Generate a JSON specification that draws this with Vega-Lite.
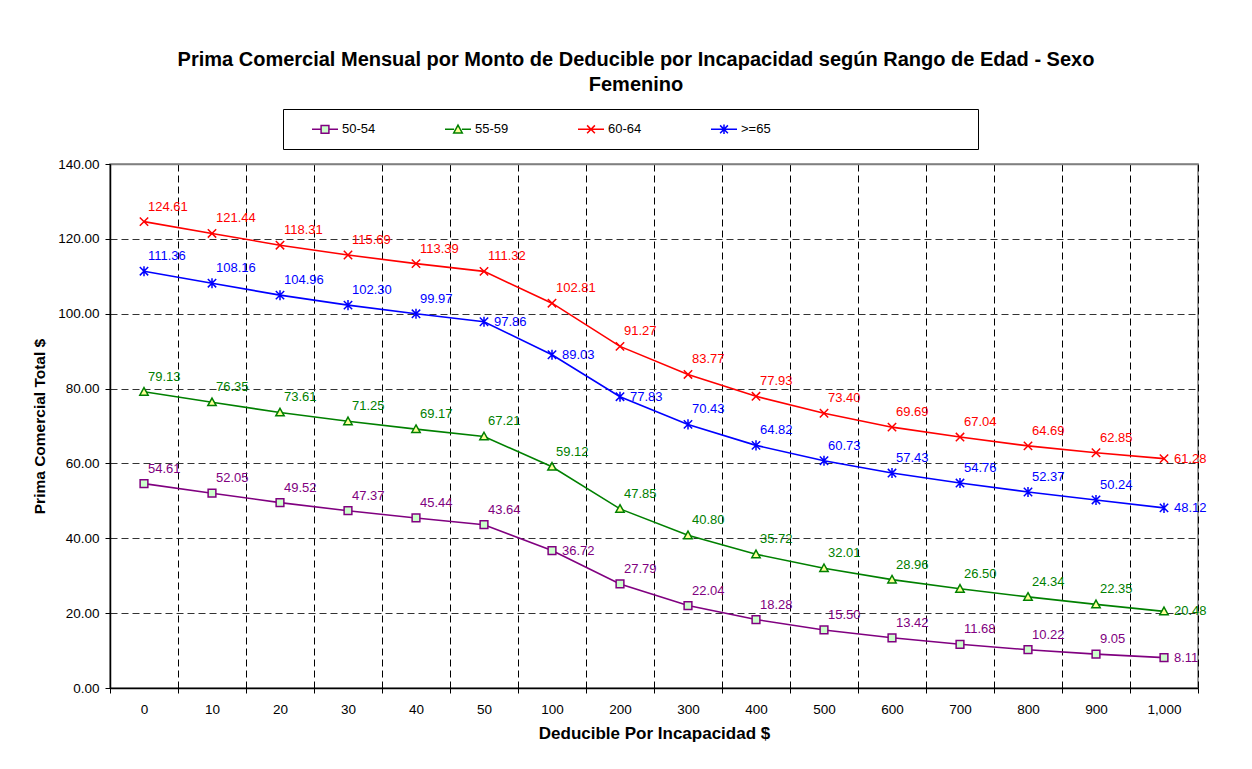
{
  "$schema": "https://vega.github.io/schema/vega-lite/v6.json",
  "autosize": {"type": "none"},
  "width": 1088,
  "height": 524,
  "padding": {"left": 110, "top": 164, "right": 54, "bottom": 81},
  "background": "white",
  "title": {
    "text": ["Prima Comercial Mensual por Monto de Deducible por Incapacidad según Rango de Edad - Sexo", "Femenino"],
    "font": "Liberation Sans",
    "fontSize": 20,
    "fontWeight": "bold",
    "color": "black",
    "anchor": "middle",
    "lineHeight": 25,
    "offset": 14,
    "dx": -18
  },
  "config": {
    "font": "Liberation Sans",
    "view": {"stroke": "#808080", "strokeWidth": 1.5}
  },
  "resolve": {"legend": {"stroke": "independent", "color": "independent", "fill": "independent", "shape": "independent"}},
  "datasets": {
    "prima": [
      {"d": "0", "s": "50-54", "v": 54.61}, {"d": "10", "s": "50-54", "v": 52.05}, {"d": "20", "s": "50-54", "v": 49.52}, {"d": "30", "s": "50-54", "v": 47.37},
      {"d": "40", "s": "50-54", "v": 45.44}, {"d": "50", "s": "50-54", "v": 43.64}, {"d": "100", "s": "50-54", "v": 36.72}, {"d": "200", "s": "50-54", "v": 27.79},
      {"d": "300", "s": "50-54", "v": 22.04}, {"d": "400", "s": "50-54", "v": 18.28}, {"d": "500", "s": "50-54", "v": 15.50}, {"d": "600", "s": "50-54", "v": 13.42},
      {"d": "700", "s": "50-54", "v": 11.68}, {"d": "800", "s": "50-54", "v": 10.22}, {"d": "900", "s": "50-54", "v": 9.05}, {"d": "1,000", "s": "50-54", "v": 8.11},
      {"d": "0", "s": "55-59", "v": 79.13}, {"d": "10", "s": "55-59", "v": 76.35}, {"d": "20", "s": "55-59", "v": 73.61}, {"d": "30", "s": "55-59", "v": 71.25},
      {"d": "40", "s": "55-59", "v": 69.17}, {"d": "50", "s": "55-59", "v": 67.21}, {"d": "100", "s": "55-59", "v": 59.12}, {"d": "200", "s": "55-59", "v": 47.85},
      {"d": "300", "s": "55-59", "v": 40.80}, {"d": "400", "s": "55-59", "v": 35.72}, {"d": "500", "s": "55-59", "v": 32.01}, {"d": "600", "s": "55-59", "v": 28.96},
      {"d": "700", "s": "55-59", "v": 26.50}, {"d": "800", "s": "55-59", "v": 24.34}, {"d": "900", "s": "55-59", "v": 22.35}, {"d": "1,000", "s": "55-59", "v": 20.48},
      {"d": "0", "s": "60-64", "v": 124.61}, {"d": "10", "s": "60-64", "v": 121.44}, {"d": "20", "s": "60-64", "v": 118.31}, {"d": "30", "s": "60-64", "v": 115.69},
      {"d": "40", "s": "60-64", "v": 113.39}, {"d": "50", "s": "60-64", "v": 111.32}, {"d": "100", "s": "60-64", "v": 102.81}, {"d": "200", "s": "60-64", "v": 91.27},
      {"d": "300", "s": "60-64", "v": 83.77}, {"d": "400", "s": "60-64", "v": 77.93}, {"d": "500", "s": "60-64", "v": 73.40}, {"d": "600", "s": "60-64", "v": 69.69},
      {"d": "700", "s": "60-64", "v": 67.04}, {"d": "800", "s": "60-64", "v": 64.69}, {"d": "900", "s": "60-64", "v": 62.85}, {"d": "1,000", "s": "60-64", "v": 61.28},
      {"d": "0", "s": ">=65", "v": 111.36}, {"d": "10", "s": ">=65", "v": 108.16}, {"d": "20", "s": ">=65", "v": 104.96}, {"d": "30", "s": ">=65", "v": 102.30},
      {"d": "40", "s": ">=65", "v": 99.97}, {"d": "50", "s": ">=65", "v": 97.86}, {"d": "100", "s": ">=65", "v": 89.03}, {"d": "200", "s": ">=65", "v": 77.83},
      {"d": "300", "s": ">=65", "v": 70.43}, {"d": "400", "s": ">=65", "v": 64.82}, {"d": "500", "s": ">=65", "v": 60.73}, {"d": "600", "s": ">=65", "v": 57.43},
      {"d": "700", "s": ">=65", "v": 54.76}, {"d": "800", "s": ">=65", "v": 52.37}, {"d": "900", "s": ">=65", "v": 50.24}, {"d": "1,000", "s": ">=65", "v": 48.12}
    ]
  },
  "data": {"name": "prima"},
  "encoding": {
    "x": {
      "field": "d", "type": "nominal",
      "sort": ["0", "10", "20", "30", "40", "50", "100", "200", "300", "400", "500", "600", "700", "800", "900", "1,000"],
      "scale": {"paddingInner": 0, "paddingOuter": 0},
      "axis": {
        "title": "Deducible Por Incapacidad $",
        "titleFont": "Liberation Sans", "titleFontSize": 17, "titleFontWeight": "bold", "titleColor": "black", "titlePadding": 10,
        "labelAngle": 0, "labelFont": "Liberation Sans", "labelFontSize": 13.5, "labelColor": "black", "labelPadding": 9,
        "tickBand": "extent", "tickSize": 5, "tickColor": "black", "domainColor": "black", "domainWidth": 1.5,
        "grid": true, "gridColor": "black", "gridDash": [7, 4], "gridWidth": 1, "gridOpacity": 1
      }
    },
    "y": {
      "field": "v", "type": "quantitative",
      "scale": {"domain": [0, 140], "nice": false},
      "axis": {
        "title": "Prima Comercial Total $",
        "titleFont": "Liberation Sans", "titleFontSize": 15.5, "titleFontWeight": "bold", "titleColor": "black", "titlePadding": 10,
        "values": [0, 20, 40, 60, 80, 100, 120, 140], "format": ".2f",
        "labelFont": "Liberation Sans", "labelFontSize": 13.5, "labelColor": "black", "labelPadding": 6,
        "tickSize": 5, "tickColor": "black", "domainColor": "black", "domainWidth": 1.5,
        "grid": true,
        "gridColor": {"condition": {"test": "datum.value == 140", "value": "#808080"}, "value": "#333333"},
        "gridDash": {"condition": {"test": "datum.value == 140", "value": []}, "value": [7, 4]},
        "gridWidth": {"condition": {"test": "datum.value == 140", "value": 1.5}, "value": 1},
        "gridOpacity": 1
      }
    }
  },
  "layer": [
    {
      "mark": {"type": "line", "strokeWidth": 1.6},
      "encoding": {
        "stroke": {"field": "s", "type": "nominal", "legend": null,
          "scale": {"domain": ["50-54", "55-59", "60-64", ">=65"], "range": ["#800080", "#008000", "#FF0000", "#0000FF"]}}
      }
    },
    {
      "transform": [{"filter": "datum.s == '50-54'"}],
      "mark": {"type": "point", "shape": "M-1,-1H1V1H-1Z", "size": 60, "filled": false, "fill": "#CCFFCC", "stroke": "#800080", "strokeWidth": 1.5, "opacity": 1}
    },
    {
      "transform": [{"filter": "datum.s == '55-59'"}],
      "mark": {"type": "point", "shape": "M0,-1L1,0.8H-1Z", "size": 70, "filled": false, "fill": "#FFFF99", "stroke": "#008000", "strokeWidth": 1.5, "opacity": 1}
    },
    {
      "transform": [{"filter": "datum.s == '60-64'"}],
      "mark": {"type": "point", "shape": "M-1,-1L1,1M-1,1L1,-1", "size": 70, "filled": false, "stroke": "#FF0000", "strokeWidth": 1.5, "opacity": 1}
    },
    {
      "transform": [{"filter": "datum.s == '>=65'"}],
      "mark": {"type": "point", "shape": "M-1,-1L1,1M-1,1L1,-1M0,-1.2L0,1.2", "size": 70, "filled": false, "stroke": "#0000FF", "strokeWidth": 1.5, "opacity": 1}
    },
    {
      "transform": [{"filter": "!(datum.d == '1,000' || (datum.s == '>=65' && indexof(['50','100','200'], datum.d) >= 0) || (datum.s == '50-54' && datum.d == '100'))"}],
      "mark": {"type": "text", "align": "left", "baseline": "middle", "dx": 4, "dy": -15, "fontSize": 13, "font": "Liberation Sans"},
      "encoding": {
        "text": {"field": "v", "type": "quantitative", "format": ".2f"},
        "color": {"field": "s", "type": "nominal", "legend": null,
          "scale": {"domain": ["50-54", "55-59", "60-64", ">=65"], "range": ["#800080", "#008000", "#FF0000", "#0000FF"]}}
      }
    },
    {
      "transform": [{"filter": "datum.d == '1,000' || (datum.s == '>=65' && indexof(['50','100','200'], datum.d) >= 0) || (datum.s == '50-54' && datum.d == '100')"}],
      "mark": {"type": "text", "align": "left", "baseline": "middle", "dx": 10, "dy": 0, "fontSize": 13, "font": "Liberation Sans"},
      "encoding": {
        "text": {"field": "v", "type": "quantitative", "format": ".2f"},
        "color": {"field": "s", "type": "nominal", "legend": null}
      }
    },
    {
      "mark": {"type": "point", "opacity": 0, "strokeWidth": 1.5},
      "encoding": {
        "shape": {"field": "s", "type": "nominal",
          "scale": {"domain": ["50-54", "55-59", "60-64", ">=65"],
            "range": [
              "M0,-0.8M0,0.8M-1,0H-0.3M0.3,0H1M-0.3,-0.3H0.3V0.3H-0.3Z",
              "M0,-0.8M0,0.8M-1,0H-0.3M0.3,0H1M0,-0.32L0.33,0.28H-0.33Z",
              "M0,-0.8M0,0.8M-1,0H1M-0.3,-0.3L0.3,0.3M-0.3,0.3L0.3,-0.3",
              "M0,-0.8M0,0.8M18.8,0M-1,0H1M-0.3,-0.3L0.3,0.3M-0.3,0.3L0.3,-0.3M0,-0.36V0.36"
            ]},
          "legend": {
            "title": null, "orient": "none", "legendX": 173, "legendY": -55, "direction": "horizontal", "columns": 4, "columnPadding": 46,
            "symbolSize": 676, "symbolStrokeWidth": 1.5, "symbolOpacity": 1, "symbolOffset": 22, "labelFont": "Liberation Sans", "labelFontSize": 13, "labelColor": "black", "labelOffset": 3,
            "padding": 6, "strokeColor": "black"
          }
        },
        "fill": {"field": "s", "type": "nominal",
          "scale": {"domain": ["50-54", "55-59", "60-64", ">=65"], "range": ["#CCFFCC", "#FFFF99", "#FF0000", "#0000FF"]}},
        "stroke": {"field": "s", "type": "nominal"}
      }
    }
  ]
}
